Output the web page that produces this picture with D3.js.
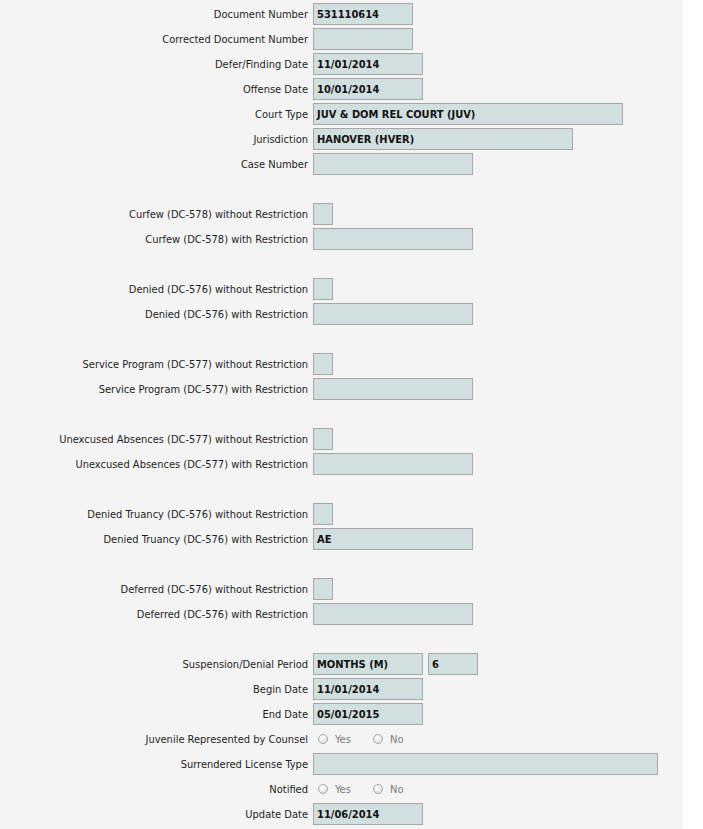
<!DOCTYPE html>
<html><head><meta charset="utf-8">
<script src="https://cdn.jsdelivr.net/npm/d3@7"></script>
<style>
html,body{margin:0;padding:0;background:#fff;}
text{font-family:'DejaVu Sans Condensed','DejaVu Sans',sans-serif;font-stretch:condensed;}
</style></head><body>
<div id="chart"></div>
<script>
// ---- data ----
const labels = [
  "Document Number","Corrected Document Number","Defer/Finding Date","Offense Date",
  "Court Type","Jurisdiction","Case Number","",
  "Curfew (DC-578) without Restriction","Curfew (DC-578) with Restriction","",
  "Denied (DC-576) without Restriction","Denied (DC-576) with Restriction","",
  "Service Program (DC-577) without Restriction","Service Program (DC-577) with Restriction","",
  "Unexcused Absences (DC-577) without Restriction","Unexcused Absences (DC-577) with Restriction","",
  "Denied Truancy (DC-576) without Restriction","Denied Truancy (DC-576) with Restriction","",
  "Deferred (DC-576) without Restriction","Deferred (DC-576) with Restriction","",
  "Suspension/Denial Period","Begin Date","End Date","Juvenile Represented by Counsel",
  "Surrendered License Type","Notified","Update Date"
];
const values = [
  "531110614","","11/01/2014","10/01/2014",
  "JUV & DOM REL COURT (JUV)","HANOVER (HVER)","","",
  "","","",
  "","","",
  "","","",
  "","","",
  "","AE","",
  "","","",
  "MONTHS (M)","11/01/2014","05/01/2015","",
  "","","11/06/2014"
];
const kinds = [
  "number","number","date","date",
  "wide","medium","text","none",
  "check","text","none",
  "check","text","none",
  "check","text","none",
  "check","text","none",
  "check","text","none",
  "check","text","none",
  "period","date","date","radio",
  "long","radio","date"
];
const periodCount = ["6"];
const radioOptions = ["Yes","No"];

// ---- layout ----
const W = 703, H = 829;
const kindWidth = {number:100, date:110, wide:310, medium:260, text:160, check:20, period:110, long:345};
const svg = d3.select("#chart").append("svg").attr("width", W).attr("height", H);
svg.append("rect").attr("x",0).attr("y",0).attr("width",683).attr("height",H).attr("fill","#f4f4f4");

const rows = d3.range(labels.length);
const y = d3.scaleLinear().domain([0, labels.length-1]).range([14, 14 + 25*(labels.length-1)]);
const labelX = 308, boxX = 313, boxH = 22;
const boxFill = "#d1dfdf", boxStroke = "#a6a8a8";

const g = svg.selectAll("g.row").data(rows).join("g").attr("class","row")
  .attr("transform", i => `translate(0,${y(i)})`);

g.filter(i => labels[i]).append("text")
  .attr("x", labelX).attr("y", 4)
  .attr("text-anchor","end").attr("font-size","11px").attr("fill","#1e1e1e")
  .text(i => labels[i]);

function box(sel, x, w) {
  sel.append("rect").attr("x", x + 0.5).attr("y", -boxH/2 + 0.5)
    .attr("width", w - 1).attr("height", boxH - 1)
    .attr("fill", boxFill).attr("stroke", boxStroke).attr("stroke-width", 1);
}
const boxed = g.filter(i => kindWidth[kinds[i]]);
boxed.each(function(i){
  const s = d3.select(this);
  box(s, boxX, kindWidth[kinds[i]]);
  if (values[i]) s.append("text").attr("x", boxX + 4).attr("y", 4)
    .attr("font-size","11px").attr("font-weight","bold").attr("fill","#111").text(values[i]);
  if (kinds[i] === "period") {
    box(s, 428, 50);
    s.append("text").attr("x", 432).attr("y", 4)
      .attr("font-size","11px").attr("font-weight","bold").attr("fill","#111").text(periodCount[0]);
  }
});

const defs = svg.append("defs");
const rg = defs.append("radialGradient").attr("id","rg").attr("cx","40%").attr("cy","35%").attr("r","70%");
rg.append("stop").attr("offset","0%").attr("stop-color","#ffffff");
rg.append("stop").attr("offset","100%").attr("stop-color","#dcdcdc");

g.filter(i => kinds[i] === "radio").each(function(){
  const s = d3.select(this);
  radioOptions.forEach((opt, k) => {
    const cx = 323 + k*55;
    s.append("circle").attr("cx", cx).attr("cy", 0).attr("r", 4.5)
      .attr("fill","url(#rg)").attr("stroke","#a8a8a8").attr("stroke-width",1);
    s.append("text").attr("x", cx + 12).attr("y", 4)
      .attr("font-size","11px").attr("fill","#7a7a7a").text(opt);
  });
});
</script></body></html>
